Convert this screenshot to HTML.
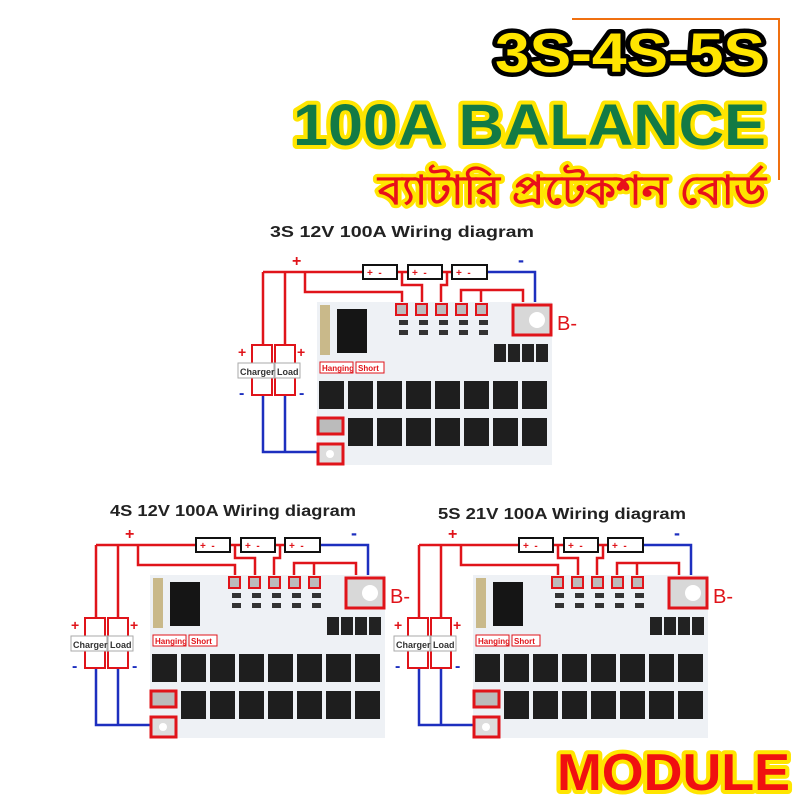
<!DOCTYPE html>
<html><head><meta charset="utf-8"><style>
html,body{margin:0;padding:0;background:#fff}
svg{display:block}
text{font-family:"Liberation Sans",sans-serif}
</style></head><body>
<svg width="800" height="800" viewBox="0 0 800 800" xmlns="http://www.w3.org/2000/svg">
<defs>
<g id="brd">
  <g fill="none" stroke="#e0141a" stroke-width="2.5">
    <path d="M263 272 H363 M397 272 H408 M442 272 H452"/>
    <path d="M263 272 V345 M285 272 V345"/>
    <path d="M305 272 V292 H402 V306"/>
    <path d="M402 272 V285 H422 V306"/>
    <path d="M447 272 V285 H441 V306"/>
    <path d="M461 306 V290 H523 V306 M481 290 V306"/>
  </g>
  <g fill="none" stroke="#1d2fbf" stroke-width="2.5">
    <path d="M487 272 H535 V306"/>
    <path d="M263 395 V452 H318 M285 395 V452"/>
  </g>
  <text x="292" y="266" font-size="16" font-weight="bold" fill="#e0141a">+</text>
  <text x="518" y="266" font-size="18" font-weight="bold" fill="#1d2fbf">-</text>
  <g fill="#fff" stroke="#111" stroke-width="2">
    <rect x="363" y="265" width="34" height="14"/><rect x="408" y="265" width="34" height="14"/><rect x="452" y="265" width="35" height="14"/>
  </g>
  <g font-size="10" font-weight="bold" fill="#e0141a">
    <text x="367" y="276">+&#160;&#160;-</text><text x="412" y="276">+&#160;&#160;-</text><text x="456" y="276">+&#160;&#160;-</text>
  </g>
  <rect x="317" y="302" width="235" height="163" fill="#eef1f5"/>
  <rect x="320" y="305" width="10" height="50" fill="#c9b98a"/>
  <rect x="337" y="309" width="30" height="44" fill="#151515"/>
  <g fill="#bbb" stroke="#e0141a" stroke-width="2">
    <rect x="396" y="304" width="11" height="11"/><rect x="416" y="304" width="11" height="11"/><rect x="436" y="304" width="11" height="11"/><rect x="456" y="304" width="11" height="11"/><rect x="476" y="304" width="11" height="11"/>
  </g>
  <g fill="#333">
    <rect x="399" y="320" width="9" height="5"/><rect x="419" y="320" width="9" height="5"/><rect x="439" y="320" width="9" height="5"/><rect x="459" y="320" width="9" height="5"/><rect x="479" y="320" width="9" height="5"/>
    <rect x="399" y="330" width="9" height="5"/><rect x="419" y="330" width="9" height="5"/><rect x="439" y="330" width="9" height="5"/><rect x="459" y="330" width="9" height="5"/><rect x="479" y="330" width="9" height="5"/>
  </g>
  <rect x="513" y="305" width="38" height="30" fill="#d8d8d8" stroke="#e0141a" stroke-width="3"/>
  <circle cx="537" cy="320" r="8" fill="#fff"/>
  <text x="557" y="330" font-size="20" fill="#e0141a">B-</text>
  <g fill="#222"><rect x="494" y="344" width="12" height="18"/><rect x="508" y="344" width="12" height="18"/><rect x="522" y="344" width="12" height="18"/><rect x="536" y="344" width="12" height="18"/></g>
  <g fill="#fff" stroke="#e0141a" stroke-width="1"><rect x="320" y="362" width="33" height="11"/><rect x="356" y="362" width="28" height="11"/></g>
  <text x="322" y="371" font-size="8" font-weight="bold" fill="#e0141a">Hanging</text>
  <text x="358" y="371" font-size="8" font-weight="bold" fill="#e0141a">Short</text>
  <g fill="#1e1e1e">
    <rect x="319" y="381" width="25" height="28"/><rect x="348" y="381" width="25" height="28"/><rect x="377" y="381" width="25" height="28"/><rect x="406" y="381" width="25" height="28"/><rect x="435" y="381" width="25" height="28"/><rect x="464" y="381" width="25" height="28"/><rect x="493" y="381" width="25" height="28"/><rect x="522" y="381" width="25" height="28"/>
    <rect x="348" y="418" width="25" height="28"/><rect x="377" y="418" width="25" height="28"/><rect x="406" y="418" width="25" height="28"/><rect x="435" y="418" width="25" height="28"/><rect x="464" y="418" width="25" height="28"/><rect x="493" y="418" width="25" height="28"/><rect x="522" y="418" width="25" height="28"/>
  </g>
  <rect x="318" y="418" width="25" height="16" fill="#bbb" stroke="#e0141a" stroke-width="3"/>
  <rect x="318" y="444" width="25" height="20" fill="#ddd" stroke="#e0141a" stroke-width="3"/>
  <circle cx="330" cy="454" r="4" fill="#fff"/>
  <g fill="#fff" stroke="#e0141a" stroke-width="2"><rect x="252" y="345" width="20" height="50"/><rect x="275" y="345" width="20" height="50"/></g>
  <g fill="#fff" stroke="#aaa" stroke-width="1"><rect x="238" y="363" width="36" height="15"/><rect x="275" y="363" width="25" height="15"/></g>
  <text x="240" y="375" font-size="9" font-weight="bold" fill="#333">Charger</text>
  <text x="277" y="375" font-size="9" font-weight="bold" fill="#333">Load</text>
  <text x="238" y="357" font-size="14" font-weight="bold" fill="#e0141a">+</text>
  <text x="297" y="357" font-size="14" font-weight="bold" fill="#e0141a">+</text>
  <text x="239" y="398" font-size="16" font-weight="bold" fill="#1d2fbf">-</text>
  <text x="299" y="398" font-size="16" font-weight="bold" fill="#1d2fbf">-</text>
</g>
</defs>

<path d="M572 19 H779 V180" fill="none" stroke="#f07010" stroke-width="2"/>
<text x="495" y="72" textLength="270" lengthAdjust="spacingAndGlyphs" font-size="56" font-weight="bold" fill="#ffe500" stroke="#000" stroke-width="9" paint-order="stroke" stroke-linejoin="round">3S-4S-5S</text>
<text x="293" y="145" textLength="473" lengthAdjust="spacingAndGlyphs" font-size="58" font-weight="bold" fill="#137a45" stroke="#ffe500" stroke-width="8" paint-order="stroke" stroke-linejoin="round">100A BALANCE</text>
<text x="378" y="204" textLength="388" lengthAdjust="spacingAndGlyphs" font-size="40" font-weight="bold" fill="#e8101a" stroke="#ffe500" stroke-width="7" paint-order="stroke" stroke-linejoin="round" font-family="'Liberation Sans', 'Noto Sans Bengali', sans-serif">ব্যাটারি প্রটেকশন বোর্ড</text>

<text x="270" y="237" textLength="264" lengthAdjust="spacingAndGlyphs" font-size="16" font-weight="bold" fill="#222">3S 12V 100A Wiring diagram</text>
<text x="110" y="516" textLength="246" lengthAdjust="spacingAndGlyphs" font-size="16" font-weight="bold" fill="#222">4S 12V 100A Wiring diagram</text>
<text x="438" y="519" textLength="248" lengthAdjust="spacingAndGlyphs" font-size="16" font-weight="bold" fill="#222">5S 21V 100A Wiring diagram</text>

<use href="#brd"/>
<use href="#brd" transform="translate(-167,273)"/>
<use href="#brd" transform="translate(156,273)"/>

<text x="557" y="790" textLength="233" lengthAdjust="spacingAndGlyphs" font-size="52" font-weight="bold" fill="#f01010" stroke="#ffe500" stroke-width="8" paint-order="stroke" stroke-linejoin="round">MODULE</text>
</svg>
</body></html>
